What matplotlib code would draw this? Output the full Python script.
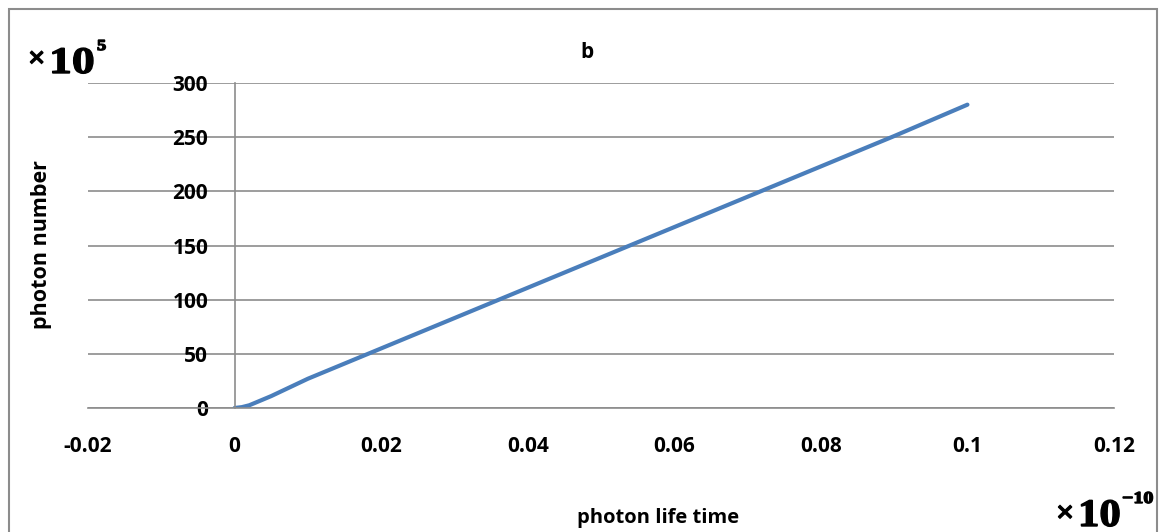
import matplotlib.pyplot as plt
from matplotlib.patches import Rectangle, PathPatch
from matplotlib.textpath import TextPath
from matplotlib.font_manager import FontProperties
from matplotlib.transforms import Affine2D

# photon number (x10^5) against photon life time (x10^-10)
life_time = [0, 0.001, 0.002, 0.005, 0.01, 0.015, 0.02, 0.03, 0.04, 0.05, 0.06, 0.07, 0.08, 0.09, 0.1]
photon_number = [0, 0.8, 2.5, 11, 27, 41, 55, 83, 111, 139, 167, 195, 223, 251, 280]

x_ticks = [-0.02, 0, 0.02, 0.04, 0.06, 0.08, 0.1, 0.12]
x_tick_labels = ['-0.02', '0', '0.02', '0.04', '0.06', '0.08', '0.1', '0.12']
y_ticks = [0, 50, 100, 150, 200, 250, 300]

W, H, DPI = 1163, 532, 100

plt.rcParams['font.family'] = ['Open Sans', 'DejaVu Sans']
plt.rcParams['font.weight'] = 'bold'

fig = plt.figure(figsize=(W / DPI, H / DPI), dpi=DPI)
ax = fig.add_axes([88 / W, 124 / H, 1026 / W, 325 / H])

ax.plot(life_time, photon_number, color='#4A7EBB', lw=3, solid_capstyle='round')

ax.set_xlim(-0.02, 0.12)
ax.set_ylim(0, 300)
ax.set_xticks(x_ticks)
ax.set_xticklabels(x_tick_labels)
ax.set_yticks(y_ticks)

ax.grid(axis='y', color='#8c8c8c', lw=1.2)
ax.set_axisbelow(True)
for s in ['top', 'right']:
    ax.spines[s].set_visible(False)
ax.spines['left'].set_position(('data', 0))
ax.spines['left'].set_color('#8c8c8c')
ax.spines['left'].set_linewidth(1.2)
ax.spines['bottom'].set_color('#8c8c8c')
ax.spines['bottom'].set_linewidth(1.2)
ax.tick_params(axis='both', length=0, labelsize=15)
ax.tick_params(axis='y', pad=19)
ax.tick_params(axis='x', pad=20)
for lab in ax.get_xticklabels() + ax.get_yticklabels():
    lab.set_fontweight('bold')

fig.text(587 / W, 1 - 52 / H, 'b', ha='center', va='center',
         fontsize=15, fontweight='bold')

fig.text(658 / W, 1 - 518 / H, 'photon life time', ha='center', va='center',
         fontsize=14.5, fontweight='bold')
fig.text(42 / W, 1 - 245 / H, 'photon number', ha='center', va='center',
         rotation=90, fontsize=15.5, fontweight='bold')

# scale factors: heavy, horizontally widened serif glyphs
serif = FontProperties(family=['Liberation Serif', 'DejaVu Serif'], weight='bold')


def wide_text(s, x, y, size, sx):
    # x, y: left edge and baseline in pixels from the top-left corner
    path = TextPath((0, 0), s, size=size, prop=serif)
    k = DPI / 72
    tr = Affine2D().scale(sx * k, k).translate(x, H - y)
    fig.patches.append(PathPatch(path, transform=tr, facecolor='black',
                                 edgecolor='black', lw=1.0))


wide_text('×', 28, 67, 21, 1.05)
wide_text('10', 49, 73, 27, 1.22)
wide_text('5', 97, 50, 11, 1.2)
wide_text('×', 1056, 522, 22, 1.05)
wide_text('10', 1078, 526, 28, 1.1)
wide_text('−10', 1122, 503, 12, 1.2)

# chart border
fig.patches.append(Rectangle((9 / W, -0.05), 1148 / W, 1 - 9 / H + 0.05,
                             transform=fig.transFigure, fill=False,
                             edgecolor='#8c8c8c', lw=1.5))

fig.savefig('out.png', dpi=DPI)
